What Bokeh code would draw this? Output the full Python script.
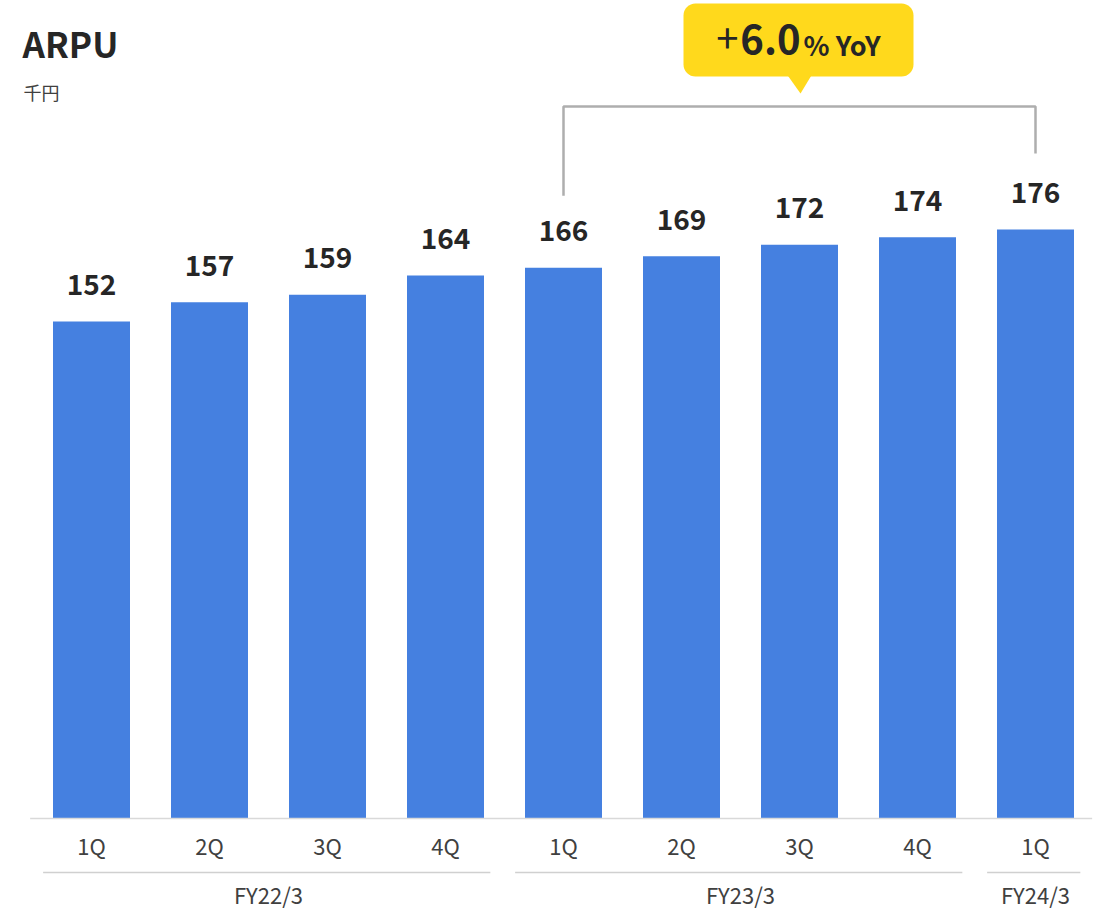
from bokeh.plotting import figure
from bokeh.models import Range1d
from bokeh.core.properties import value
from bokeh.embed import file_html
from bokeh.resources import INLINE

# ---------------- data ----------------
quarters = ["1Q", "2Q", "3Q", "4Q", "1Q", "2Q", "3Q", "4Q", "1Q"]
arpu = [152, 157, 159, 164, 166, 169, 172, 174, 176]
fiscal_years = ["FY22/3", "FY23/3", "FY24/3"]
fy_sizes = [4, 4, 1]
title_text = "ARPU"
unit_text = "千円"
yoy_plus = "+"
yoy_num = "6.0"
yoy_suffix = "% YoY"
yoy_from, yoy_to = 4, 8

# ---------------- layout ----------------
W, H = 1107, 911
X0 = 91.0        # canvas x of first category centre
DX = 118.0       # pixels per category
BASE_PX = 818.0  # canvas y of the baseline
K = 3.833        # pixels per unit value
Y_BASE = 22.34   # value at baseline

FONT = "Noto Sans CJK JP"
DARK = "#262626"
MID = "#404040"
BLUE = "#4580E0"
YELLOW = "#FFD91C"


def px2x(cx):
    return (cx - X0) / DX


def py2y(cy):
    return Y_BASE + (BASE_PX - cy) / K


p = figure(width=W, height=H,
           x_range=Range1d(px2x(0), px2x(W)),
           y_range=Range1d(py2y(H), py2y(0)),
           output_backend="svg", toolbar_location=None,
           x_axis_location=None, y_axis_location=None,
           min_border=0, outline_line_color=None,
           background_fill_color="white", border_fill_color="white")
p.grid.visible = False

idx = list(range(len(arpu)))

# bars
p.vbar(x=idx, top=arpu, bottom=Y_BASE, width=77 / DX,
       fill_color=BLUE, line_color=None)

# value labels
p.text(x=idx, y=arpu, text=[str(v) for v in arpu], y_offset=-37,
       text_align="center", text_baseline="alphabetic",
       text_font=value(FONT), text_font_style="bold",
       text_font_size="28px", text_color=DARK)

# baseline
p.segment(x0=[-0.52], y0=[Y_BASE], x1=[len(arpu) - 1 + 0.48], y1=[Y_BASE],
          line_color="#D9D9D9", line_width=1.5)

# quarter labels
p.text(x=idx, y=[Y_BASE] * len(idx), text=quarters, y_offset=26,
       text_align="center", text_baseline="middle",
       text_font=value(FONT), text_font_size="22px", text_color=MID)

# fiscal year groups
starts, ends, centers = [], [], []
s = 0
for n in fy_sizes:
    starts.append(s - 0.41)
    ends.append(s + n - 1 + 0.38)
    centers.append(s + (n - 1) / 2)
    s += n
gy = Y_BASE - 54 / K
p.segment(x0=starts, y0=[gy] * len(starts), x1=ends, y1=[gy] * len(ends),
          line_color="#D0D0D0", line_width=1.5)
p.text(x=centers, y=[Y_BASE] * len(centers), text=fiscal_years, y_offset=75,
       text_align="center", text_baseline="middle",
       text_font=value(FONT), text_font_size="22px", text_color=MID)

# title and unit
p.text(x=[px2x(22)], y=[py2y(42)], text=[title_text],
       text_align="left", text_baseline="alphabetic",
       text_font=value(FONT), text_font_style="bold",
       text_font_size="35px", text_color=DARK)
p.text(x=[px2x(23)], y=[py2y(91)], text=[unit_text],
       text_align="left", text_baseline="middle",
       text_font=value(FONT), text_font_size="18px", text_color=MID)

# YoY bracket
p.line(x=[yoy_from, yoy_from, yoy_to, yoy_to],
       y=[arpu[yoy_from] + 72 / K, py2y(106), py2y(106), arpu[yoy_to] + 76 / K],
       line_color="#AEAEAE", line_width=2.5)

# callout
c = (yoy_from + yoy_to) / 2
p.quad(left=[c - 116 / DX], right=[c + 114 / DX], top=[py2y(3)], bottom=[py2y(76)],
       fill_color=YELLOW, line_color=None, border_radius=12)
p.patch(x=[c - 12.5 / DX, c + 12.5 / DX, c + 1 / DX],
        y=[py2y(74), py2y(74), py2y(93)],
        fill_color=YELLOW, line_color=None)
p.text(x=[c - 61 / DX], y=[py2y(38)], text=[yoy_plus],
       text_align="right", text_baseline="alphabetic",
       text_font=value(FONT), text_font_size="40px", text_color=DARK)
p.text(x=[c + 1 / DX], y=[py2y(38)], text=[yoy_num],
       text_align="right", text_baseline="alphabetic",
       text_font=value(FONT), text_font_style="bold",
       text_font_size="40px", text_color=DARK)
p.text(x=[c + 4 / DX], y=[py2y(44)], text=[yoy_suffix],
       text_align="left", text_baseline="alphabetic",
       text_font=value(FONT), text_font_style="bold",
       text_font_size="27px", text_color=DARK)

open("out.html", "w").write(file_html(p, INLINE))
